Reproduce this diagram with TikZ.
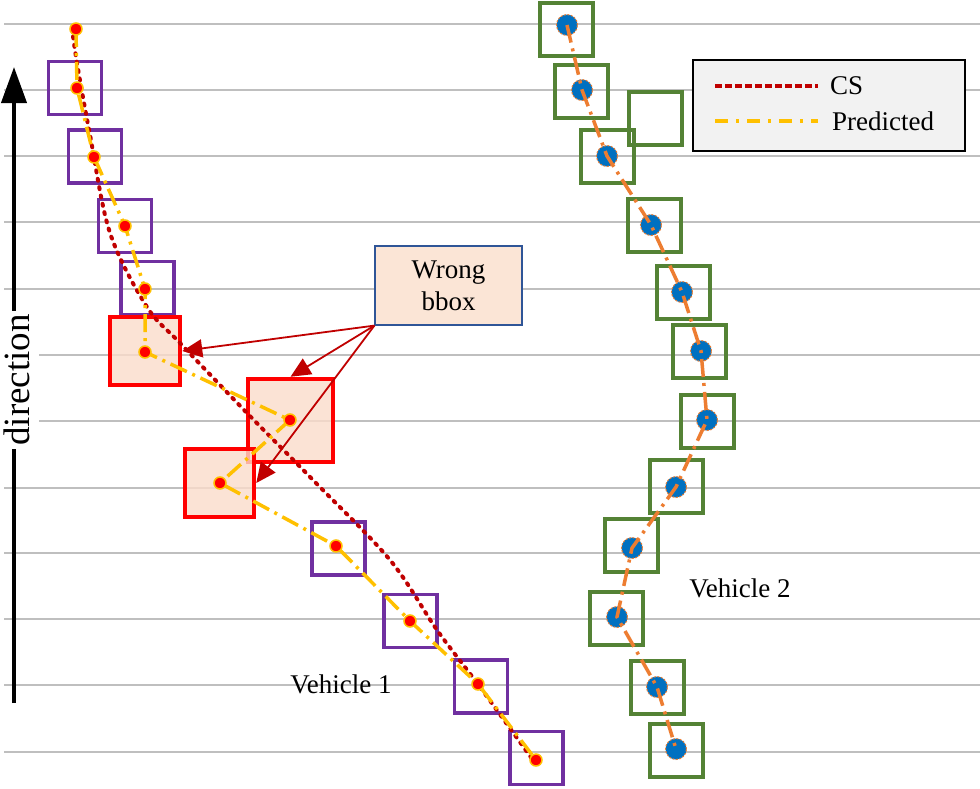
\documentclass[tikz,border=0pt]{standalone}
\usepackage{fontspec}
\setmainfont{Liberation Serif}
\usepackage{tikz}
\usetikzlibrary{arrows.meta,positioning}
\definecolor{vpurple}{HTML}{7030A0}
\definecolor{vgreen}{HTML}{548235}
\definecolor{vblue}{HTML}{0070C0}
\definecolor{vorange}{HTML}{ED7D31}
\definecolor{vyellow}{HTML}{FFC000}
\definecolor{vdarkred}{HTML}{C00000}
\definecolor{vred}{HTML}{FF0000}
\definecolor{vgrid}{HTML}{BFBFBF}
\definecolor{wrongfill}{HTML}{FBDCCB}
\definecolor{callfill}{HTML}{FBE5D6}
\definecolor{callborder}{HTML}{2F5597}
\definecolor{legfill}{HTML}{F2F2F2}

\begin{document}
\begin{tikzpicture}[x=1pt,y=-1pt,font=\fontsize{27pt}{32pt}\selectfont,
  gridline/.style={vgrid,line width=1.5pt},
  pbox/.style={draw=vpurple,line width=3.5pt,minimum size=53pt,inner sep=0pt},
  rbox/.style={draw=vred,line width=4.5pt,fill=wrongfill,fill opacity=0.8,inner sep=0pt},
  gbox/.style={draw=vgreen,line width=4pt,minimum size=53pt,inner sep=0pt},
  csline/.style={vdarkred,line width=4pt,dash pattern=on 2pt off 6.5pt,line cap=round},
  predline/.style={vyellow,line width=3.5pt,dash pattern=on 18pt off 6pt on 3pt off 6pt},
  trackline/.style={vorange,line width=3.5pt,dash pattern=on 18pt off 6pt on 3pt off 6pt},
  reddot/.style={fill=vred,draw=vyellow,line width=1.5pt},
  bluedot/.style={fill=vblue,draw=vorange,line width=1pt,dash pattern=on 2pt off 1.5pt},
  callarrow/.style={vdarkred,line width=1.8pt,-{Triangle[length=20pt,width=18pt]}}]
  \useasboundingbox (0,0) rectangle (980,788);
  \fill[white] (0,0) rectangle (980,788);

  % grid
  \foreach \gy in {24,90,156,222,289,355,421,488,553,619,685,752}
    \draw[gridline] (4,\gy) -- (980,\gy);

  % direction arrow
  \coordinate (dirtail) at (14,703);
  \coordinate (dirhead) at (14,67);
  \draw[line width=4pt,-{Triangle[length=36pt,width=25pt]}] (dirtail) -- (dirhead);
  \node[rotate=90,fill=white,inner xsep=3pt,inner ysep=9pt,
        font=\fontsize{37pt}{40pt}\selectfont] (dirlabel) at (17,380) {direction};

  % vehicle 2 boxes
  \foreach \n/\x/\y in {gA/566/29, gB/581.5/91, gC/655.5/118.5, gD/607/156.5,
    gE/654/225.5, gF/683.5/292, gG/699/351.5, gH/707.5/421, gI/676/486,
    gJ/631.5/545.5, gK/616/618, gL/657.5/687, gM/676.5/750}
    \node[gbox] (\n) at (\x,\y) {};

  % vehicle 1 boxes
  \foreach \n/\x/\y in {p1/75/88, p2/95/156.5, p3/125/226, p4/147.5/288,
    p5/338.5/548.5, p6/410.5/621, p7/481/686.5, p8/536.5/758}
    \node[pbox] (\n) at (\x,\y) {};
  \foreach \n/\x/\y/\w/\h in {r1/145/351/70/68, r2/290.5/420.5/85/83, r3/219.5/483/69/68}
    \node[rbox,minimum width=\w pt,minimum height=\h pt] (\n) at (\x,\y) {};

  % centres: {name}/{x}/{y}
  \foreach \i/\x/\y in {0/76/29, 1/77/88, 2/94/157, 3/125/226, 4/145/289, 5/145/352,
    6/290/420, 7/220/483, 8/336/546, 9/410/621, 10/478/684, 11/536/760}
    \coordinate (a\i) at (\x,\y);
  \foreach \i/\x/\y in {0/567/25, 1/582/90, 2/607/156, 3/651/225, 4/682/292, 5/701/351,
    6/707/420, 7/676/487, 8/632/548, 9/617/617, 10/657/687, 11/676/749}
    \coordinate (b\i) at (\x,\y);

  % CS track
  \draw[csline] plot[smooth,tension=0.55] coordinates {(72,28) (77,63) (90,135)
    (110,233) (147,307) (180,343) (247,413) (313,480) (390,560)
    (437,630) (480,687) (535,763)};

  % predicted tracks
  \draw[predline] (a0) \foreach \i in {1,...,11}{ -- (a\i)};
  \foreach \i in {0,...,11}
    \filldraw[reddot] (a\i) circle (6pt);
  \foreach \i in {0,...,11}
    \filldraw[bluedot] (b\i) circle (10.5pt);
  \draw[trackline] (b0) \foreach \i in {1,...,11}{ -- (b\i)};

  \node (v1label) at (341,684) {Vehicle 1};
  \node (v2label) at (740,588) {Vehicle 2};

  % callout
  \node[draw=callborder,line width=1.2pt,fill=callfill,align=center,
        minimum width=147pt,minimum height=79pt,inner sep=2pt] (wrong) at (448.5,285.5)
        {Wrong\\bbox};
  \draw[callarrow] (wrong.south west) -- (r1.east);
  \draw[callarrow] (wrong.south west) -- (r2.north);
  \draw[callarrow] (wrong.south west) -- (r3.east);

  % legend
  \node[draw=black,line width=2.5pt,fill=legfill,minimum width=272pt,
        minimum height=91pt] (legend) at (829,105.5) {};
  \coordinate (csA) at (715,86);
  \coordinate (csB) at (818,86);
  \coordinate (prA) at (715,121);
  \coordinate (prB) at (818,121);
  \draw[csline,line cap=butt,dash pattern=on 7pt off 3pt] (csA) -- (csB);
  \draw[predline,dash pattern=on 13pt off 8pt on 3pt off 8pt] (prA) -- (prB);
  \node[anchor=west,inner sep=0pt] (cstext) at (830,86) {CS};
  \node[anchor=west,inner sep=0pt] (prtext) at (832,121) {Predicted};
\end{tikzpicture}
\end{document}
